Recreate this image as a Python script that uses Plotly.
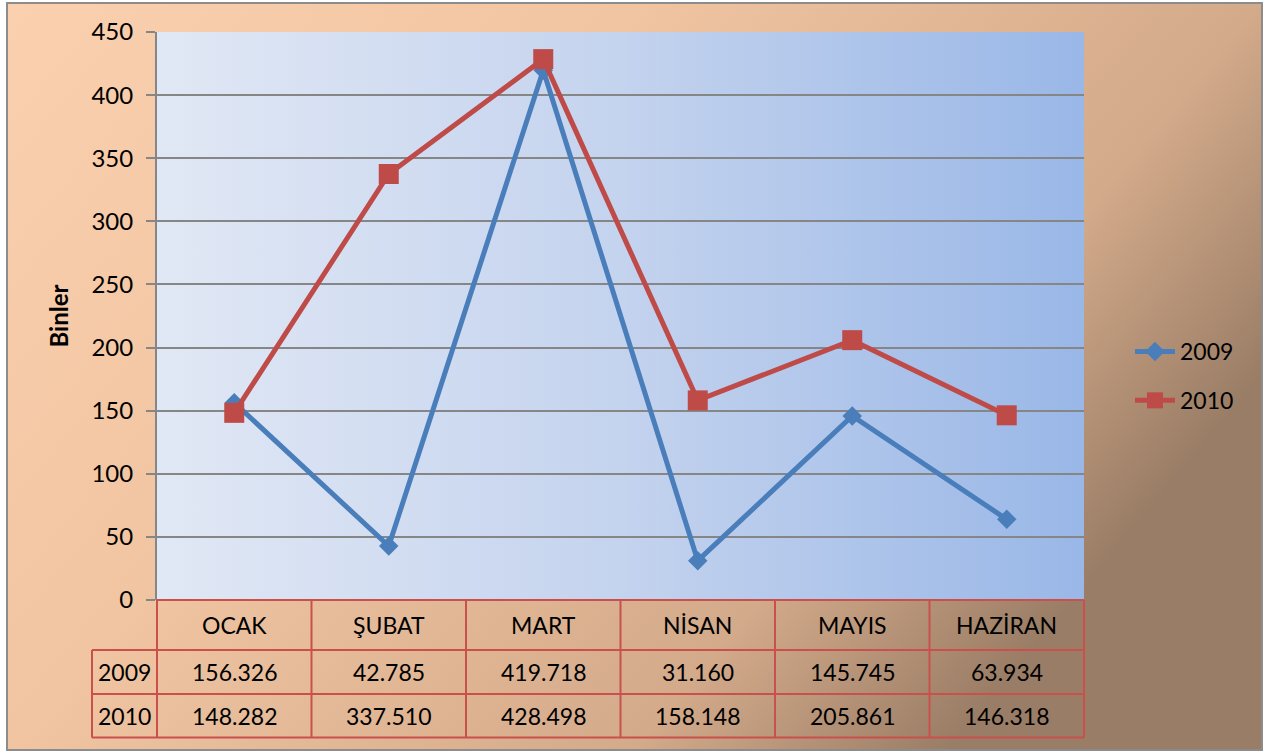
import base64
import plotly.graph_objects as go

# ---- data ----
months = ["OCAK", "ŞUBAT", "MART", "NİSAN", "MAYIS", "HAZİRAN"]
series_names = ["2009", "2010"]
values_2009 = [156.326, 42.785, 419.718, 31.160, 145.745, 63.934]
values_2010 = [148.282, 337.510, 428.498, 158.148, 205.861, 146.318]
y_ticks = [0, 50, 100, 150, 200, 250, 300, 350, 400, 450]
y_title = "Binler"

# ---- layout geometry (pixels) ----
W, H = 1272, 754
ML, MR, MT, MB = 157, 188, 32, 154
PW, PH = W - ML - MR, H - MT - MB

def py2paper(py):
    return (H - MB - py) / PH

def px2paper(px):
    return (px - ML) / PW

FONT = "Lato, Carlito, Calibri, sans-serif"
BLUE = "#4A7EBB"
RED = "#BE4B48"
GRID = "#868686"
TABLE = "#C9504D"

# ---- background gradients as svg images ----
bg_svg = f'''<svg xmlns="http://www.w3.org/2000/svg" width="{W}" height="{H}" viewBox="0 0 {W} {H}" preserveAspectRatio="none">
<defs><linearGradient id="g" x1="0" y1="0" x2="1" y2="0.5">
<stop offset="0" stop-color="#FBD0AE"/>
<stop offset="0.4" stop-color="#F1C5A2"/>
<stop offset="0.8" stop-color="#D3AA8A"/>
<stop offset="1" stop-color="#9A7D66"/>
</linearGradient></defs>
<rect width="{W}" height="{H}" fill="white"/>
<rect x="7" y="3" width="1255" height="747" fill="url(#g)" stroke="#8C8C8C" stroke-width="2"/>
</svg>'''
plot_svg = '''<svg xmlns="http://www.w3.org/2000/svg" width="100" height="100" viewBox="0 0 100 100" preserveAspectRatio="none">
<defs><linearGradient id="p" x1="0" y1="0" x2="1" y2="0">
<stop offset="0" stop-color="#E1E8F5"/>
<stop offset="0.5" stop-color="#C4D3EE"/>
<stop offset="1" stop-color="#99B7E7"/>
</linearGradient></defs>
<rect width="100" height="100" fill="url(#p)"/>
</svg>'''

def uri(svg):
    return "data:image/svg+xml;base64," + base64.b64encode(svg.encode()).decode()

fig = go.Figure()
fig.add_trace(go.Scatter(
    x=months, y=values_2009, name=series_names[0], mode="lines+markers",
    line=dict(color=BLUE, width=5),
    marker=dict(symbol="diamond", size=15, color=BLUE),
    legendgroup="a",
))
fig.add_trace(go.Scatter(
    x=months, y=values_2010, name=series_names[1], mode="lines+markers",
    line=dict(color=RED, width=5),
    marker=dict(symbol="square", size=20, color=RED),
    legendgroup="b",
))

images = [
    dict(source=uri(bg_svg), xref="paper", yref="paper",
         x=-ML / PW, y=1 + MT / PH, sizex=W / PW, sizey=H / PH,
         xanchor="left", yanchor="top", sizing="stretch", layer="below"),
    dict(source=uri(plot_svg), xref="paper", yref="paper",
         x=0, y=1, sizex=1, sizey=1,
         xanchor="left", yanchor="top", sizing="stretch", layer="below"),
]

# ---- data table below the plot ----
n = len(months)
row_lines_px = [600, 650, 694, 737.5]
y_top = py2paper(row_lines_px[0])
y_r1 = py2paper(row_lines_px[1])
y_r2 = py2paper(row_lines_px[2])
y_bot = py2paper(row_lines_px[3])
x_lab = px2paper(92)

shapes = []
line_style = dict(color=TABLE, width=2)
for i in range(n + 1):
    shapes.append(dict(type="line", xref="paper", yref="paper",
                       x0=i / n, x1=i / n, y0=y_top, y1=y_bot, line=line_style))
shapes.append(dict(type="line", xref="paper", yref="paper",
                   x0=0, x1=1, y0=y_top, y1=y_top, line=line_style))
for yy in (y_r1, y_r2, y_bot):
    shapes.append(dict(type="line", xref="paper", yref="paper",
                       x0=x_lab, x1=1, y0=yy, y1=yy, line=line_style))
shapes.append(dict(type="line", xref="paper", yref="paper",
                   x0=x_lab, x1=x_lab, y0=y_r1, y1=y_bot, line=line_style))

annotations = []
tfont = dict(family=FONT, size=23, color="black")
def cell(x, y, text):
    return dict(x=x, y=y, xref="paper", yref="paper", text=text, showarrow=False,
                xanchor="center", yanchor="middle", font=tfont)

for i, m in enumerate(months):
    xc = (i + 0.5) / n
    annotations.append(cell(xc, (y_top + y_r1) / 2, m))
    annotations.append(cell(xc, (y_r1 + y_r2) / 2, f"{values_2009[i]:.3f}"))
    annotations.append(cell(xc, (y_r2 + y_bot) / 2, f"{values_2010[i]:.3f}"))
for name, (ya, yb) in zip(series_names, [(y_r1, y_r2), (y_r2, y_bot)]):
    annotations.append(cell(x_lab / 2, (ya + yb) / 2, name))

fig.update_layout(
    width=W, height=H,
    margin=dict(l=ML, r=MR, t=MT, b=MB, pad=0),
    paper_bgcolor="white",
    plot_bgcolor="rgba(0,0,0,0)",
    font=dict(family=FONT, size=23, color="black"),
    showlegend=True,
    legend=dict(x=px2paper(1130), y=py2paper(376), xanchor="left", yanchor="middle",
                bgcolor="rgba(0,0,0,0)", font=dict(family=FONT, size=23),
                tracegroupgap=16, itemwidth=40),
    images=images,
    shapes=shapes,
    annotations=annotations,
    xaxis=dict(type="category", range=[-0.5, n - 0.5], showticklabels=False,
               showgrid=False, zeroline=False, showline=False, ticks=""),
    yaxis=dict(range=[0, 450], tickvals=y_ticks, showgrid=True, gridcolor=GRID, gridwidth=2,
               zeroline=False, showline=True, linecolor=GRID, linewidth=2,
               ticks="outside", ticklen=9, tickcolor=GRID, tickwidth=2,
               ticklabelstandoff=8,
               tickfont=dict(family=FONT, size=24),
               title=dict(text=f"<b>{y_title}</b>", font=dict(family=FONT, size=24), standoff=16)),
)

fig.write_html("out.html", config={"displayModeBar": False},
               post_script="document.body.style.margin='0';")
